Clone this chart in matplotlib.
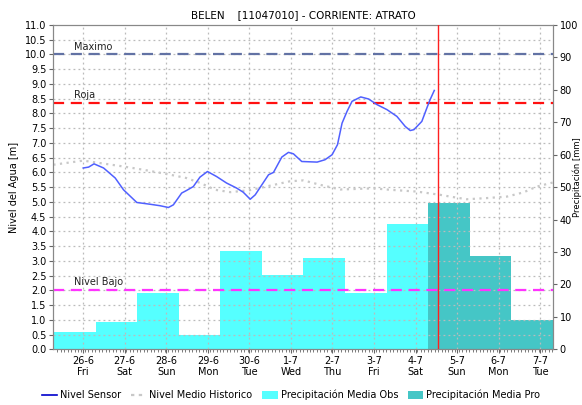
import matplotlib
matplotlib.use("Agg")
import matplotlib.pyplot as plt
import numpy as np
from matplotlib.lines import Line2D
from matplotlib.patches import Patch

plt.rcParams['font.family'] = ['DejaVu Sans']

title = "BELEN    [11047010] - CORRIENTE: ATRATO"
day_labels = ["26-6\nFri", "27-6\nSat", "28-6\nSun", "29-6\nMon", "30-6\nTue", "1-7\nWed",
              "2-7\nThu", "3-7\nFri", "4-7\nSat", "5-7\nSun", "6-7\nMon", "7-7\nTue"]

# Sensor level (days since 26-6 00:00, metres)
sensor_t = [0.0, 0.13, 0.26, 0.49, 0.77, 0.97, 1.29, 1.61, 1.85, 2.05, 2.17, 2.37, 2.49, 2.65,
            2.81, 2.99, 3.21, 3.45, 3.69, 3.85, 4.02, 4.14, 4.30, 4.46, 4.58, 4.78, 4.94,
            5.06, 5.26, 5.63, 5.82, 5.99, 6.12, 6.23, 6.35, 6.47, 6.68, 6.87, 7.07, 7.31,
            7.55, 7.75, 7.87, 7.96, 8.15, 8.27, 8.35, 8.45]
sensor_v = [6.15, 6.18, 6.29, 6.15, 5.81, 5.41, 4.98, 4.92, 4.87, 4.81, 4.90, 5.30, 5.39, 5.52,
            5.84, 6.03, 5.86, 5.64, 5.47, 5.33, 5.09, 5.24, 5.58, 5.92, 6.00, 6.52, 6.68,
            6.63, 6.37, 6.35, 6.43, 6.60, 6.94, 7.67, 8.07, 8.41, 8.56, 8.49, 8.30, 8.13,
            7.90, 7.56, 7.42, 7.45, 7.73, 8.18, 8.47, 8.78]

# Historic mean level
hist_t = [-0.72, 0.0, 0.97, 1.45, 2.10, 2.48, 2.82, 3.18, 3.54, 4.02, 4.50, 4.98, 5.30, 5.70,
          6.19, 6.98, 7.39, 8.03, 8.59, 8.83, 9.23, 9.72, 10.20, 10.59, 10.92, 11.31]
hist_v = [6.26, 6.40, 6.20, 6.09, 5.92, 5.81, 5.64, 5.41, 5.33, 5.40, 5.55, 5.70, 5.73, 5.58,
          5.42, 5.46, 5.41, 5.35, 5.24, 5.18, 5.09, 5.13, 5.18, 5.32, 5.52, 5.66]

# Daily precipitation [mm] (observed then forecast)
precip_obs = [30.3, 5.4, 8.5, 17.5, 4.4, 30.2, 23.0, 28.3, 17.3, 38.6]
precip_pro = [45.1, 28.9, 9.1]

levels = {"Maximo": 10.0, "Roja": 8.37, "Nivel Bajo": 2.0}
now_t = 8.55

fig = plt.figure(figsize=(5.82, 4.05), dpi=100)
ax = fig.add_axes([53.3/582, 1-349.3/405, (552.7-53.3)/582, (349.3-25)/405])
ax2 = ax.twinx()

x0 = -0.72
start = -0.70
ax.set_xlim(x0, 11.30)
ax.set_ylim(0, 11)
ax2.set_ylim(0, 100)

# bars on secondary axis
obs_left = [start - 1 + i for i in range(len(precip_obs))]
pro_left = [start - 1 + len(precip_obs) + i for i in range(len(precip_pro))]
ax2.bar(obs_left, precip_obs, width=1.0, align='edge', color='#55FFFF', linewidth=0, zorder=1)
ax2.bar(pro_left, precip_pro, width=1.0, align='edge', color='#45C6C6', linewidth=0, zorder=1)

ax.set_zorder(ax2.get_zorder() + 1)
ax.patch.set_visible(False)

# grid
for y in np.arange(0.5, 11.0, 0.5):
    ax.axhline(y, color='#BBBBBB', lw=0.9, ls=(0, (1.5, 2.5)), zorder=0.5)
for d in range(12):
    ax.axvline(d, color='#BBBBBB', lw=0.9, ls=(0, (1.5, 2.5)), zorder=0.5)

# reference levels
ax.axhline(levels["Maximo"], color='#6272A4', lw=1.6, ls=(0, (5, 3)), zorder=2)
ax.axhline(levels["Roja"], color='#FF1010', lw=1.6, ls=(0, (5, 3)), zorder=2)
ax.axhline(levels["Nivel Bajo"], color='#FF33FF', lw=1.6, ls=(0, (5, 3)), zorder=2)
for name, v in levels.items():
    ax.text(-0.23, v + 0.1, name, fontsize=7, color='#222222', ha='left', va='bottom', zorder=3)

ax.plot(hist_t, hist_v, color='#C8C8C8', lw=1.6, ls=(0, (1, 2)), zorder=2)
ax.plot(sensor_t, sensor_v, color='#5060FF', lw=1.1, zorder=4)
ax.axvline(now_t, color='#FF2020', lw=1.0, zorder=5)

# axes styling
for a in (ax, ax2):
    for s in a.spines.values():
        s.set_color('#888888')
ax.set_yticks(np.arange(0, 11.01, 0.5))
ax.set_yticklabels([f"{v:.1f}" for v in np.arange(0, 11.01, 0.5)], fontsize=7)
ax2.set_yticks(np.arange(0, 101, 10))
ax2.set_yticklabels([str(v) for v in range(0, 101, 10)], fontsize=7)
ax.set_xticks(range(12))
ax.set_xticklabels(day_labels, fontsize=7, linespacing=1.1)
ax.set_xticks(np.arange(-0.625, 11.3, 1/12), minor=True)
ax.tick_params(axis='x', which='minor', length=2, color='#666666')
ax.tick_params(axis='both', which='major', length=3, color='#666666', pad=2)
ax2.tick_params(axis='y', length=3, color='#666666', pad=2)
ax.set_ylabel("Nivel del Agua [m]", fontsize=7, labelpad=4)
ax.set_title(title, fontsize=7.5, pad=5)

fig.text(577.5/582, 1-177/405, "Precipitación [mm]", rotation=90, fontsize=6,
         ha='center', va='center')

handles = [Line2D([0], [0], color='#0000CC', lw=1.2),
           Line2D([0], [0], color='#C8C8C8', lw=1.6, ls=(0, (1.5, 2))),
           Patch(facecolor='#55FFFF', edgecolor='none'),
           Patch(facecolor='#45C6C6', edgecolor='none')]
labels = ["Nivel Sensor", "Nivel Medio Historico", "Precipitación Media Obs", "Precipitación Media Pro"]
fig.legend(handles, labels, loc='center', bbox_to_anchor=(291/582, 1-395/405), ncol=4,
           frameon=False, fontsize=7, handlelength=1.6, handletextpad=0.3, columnspacing=1.0,
           handleheight=0.9)

fig.savefig("out.png", dpi=100)
